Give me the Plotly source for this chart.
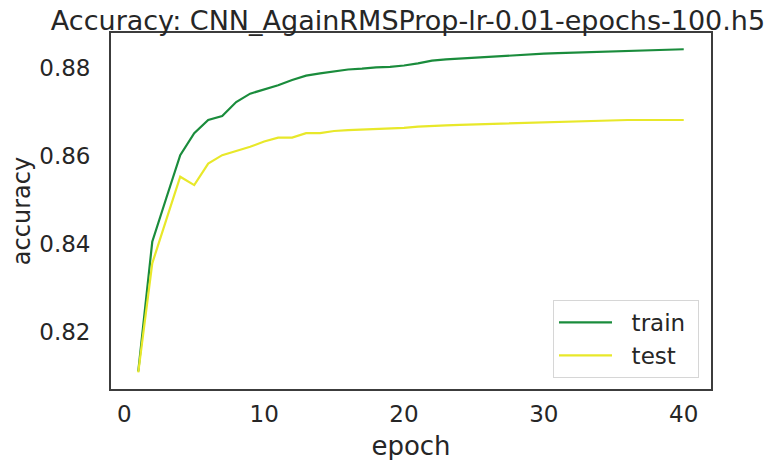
import plotly.graph_objects as go

epochs = list(range(1, 41))
train_acc = [0.8110, 0.8405, 0.8504, 0.8602, 0.8652, 0.8682, 0.8691, 0.8723, 0.8742, 0.8751,
             0.8761, 0.8773, 0.8783, 0.8788, 0.8792, 0.8797, 0.8799, 0.8802, 0.8803, 0.8806,
             0.8811, 0.8817, 0.8820, 0.8822, 0.8824, 0.8826, 0.8828, 0.8830, 0.8831, 0.8833,
             0.8834, 0.8835, 0.8836, 0.8837, 0.8838, 0.8839, 0.8840, 0.8841, 0.8842, 0.8843]
test_acc = [0.8108, 0.8356, 0.8455, 0.8553, 0.8534, 0.8583, 0.8602, 0.8612, 0.8621, 0.8633,
            0.8642, 0.8642, 0.8652, 0.8652, 0.8657, 0.8659, 0.8660, 0.8662, 0.8663, 0.8664,
            0.8667, 0.8669, 0.8670, 0.8671, 0.8672, 0.8673, 0.8674, 0.8675, 0.8676, 0.8677,
            0.8678, 0.8679, 0.8680, 0.8681, 0.8682, 0.8682, 0.8682, 0.8682, 0.8682, 0.8682]
series_names = ["train", "test"]
y_ticks = [0.82, 0.84, 0.86, 0.88]
x_ticks = [0, 10, 20, 30, 40]

FONT = "DejaVu Sans"
TXT = "#262626"
NB = "\u00a0"

fig = go.Figure()
fig.add_trace(go.Scatter(x=epochs, y=train_acc, mode="lines", name=NB * 2 + series_names[0] + NB,
                         line=dict(color="#1a8c3c", width=2.2)))
fig.add_trace(go.Scatter(x=epochs, y=test_acc, mode="lines", name=NB * 2 + series_names[1] + NB,
                         line=dict(color="#e8e82a", width=2.2)))

fig.update_layout(
    width=783, height=460,
    margin=dict(l=103, r=80, t=25, b=79),
    paper_bgcolor="white", plot_bgcolor="white",
    font=dict(family=FONT, size=23, color=TXT),
    title=dict(text="Accuracy: CNN_AgainRMSProp-lr-0.01-epochs-100.h5",
               x=400 / 783, xanchor="center", yref="container", y=1, yanchor="top",
               pad=dict(t=3, b=0),
               font=dict(family=FONT, size=27, color=TXT)),
    showlegend=True,
    legend=dict(x=0.98, xanchor="right", y=0.031, yanchor="bottom",
                bgcolor="white", bordercolor="#d6d6d6", borderwidth=1,
                itemwidth=53,
                font=dict(family=FONT, size=23, color=TXT)),
)
fig.update_xaxes(range=[-0.95, 41.95], tickvals=x_ticks, showgrid=False, zeroline=False,
                 showline=True, linecolor="#3c3c3c", linewidth=1.8, mirror=True,
                 ticks="", ticklabelstandoff=3, automargin=False,
                 title=dict(text="epoch", standoff=11, font=dict(size=26)))
fig.update_yaxes(range=[0.807, 0.888], tickvals=y_ticks, tickformat=".2f",
                 showgrid=False, zeroline=False,
                 showline=True, linecolor="#3c3c3c", linewidth=1.8, mirror=True,
                 ticks="", ticklabelstandoff=14, automargin=False,
                 title=dict(text="accuracy", standoff=8, font=dict(size=24)))

fig.write_html("out.html")
